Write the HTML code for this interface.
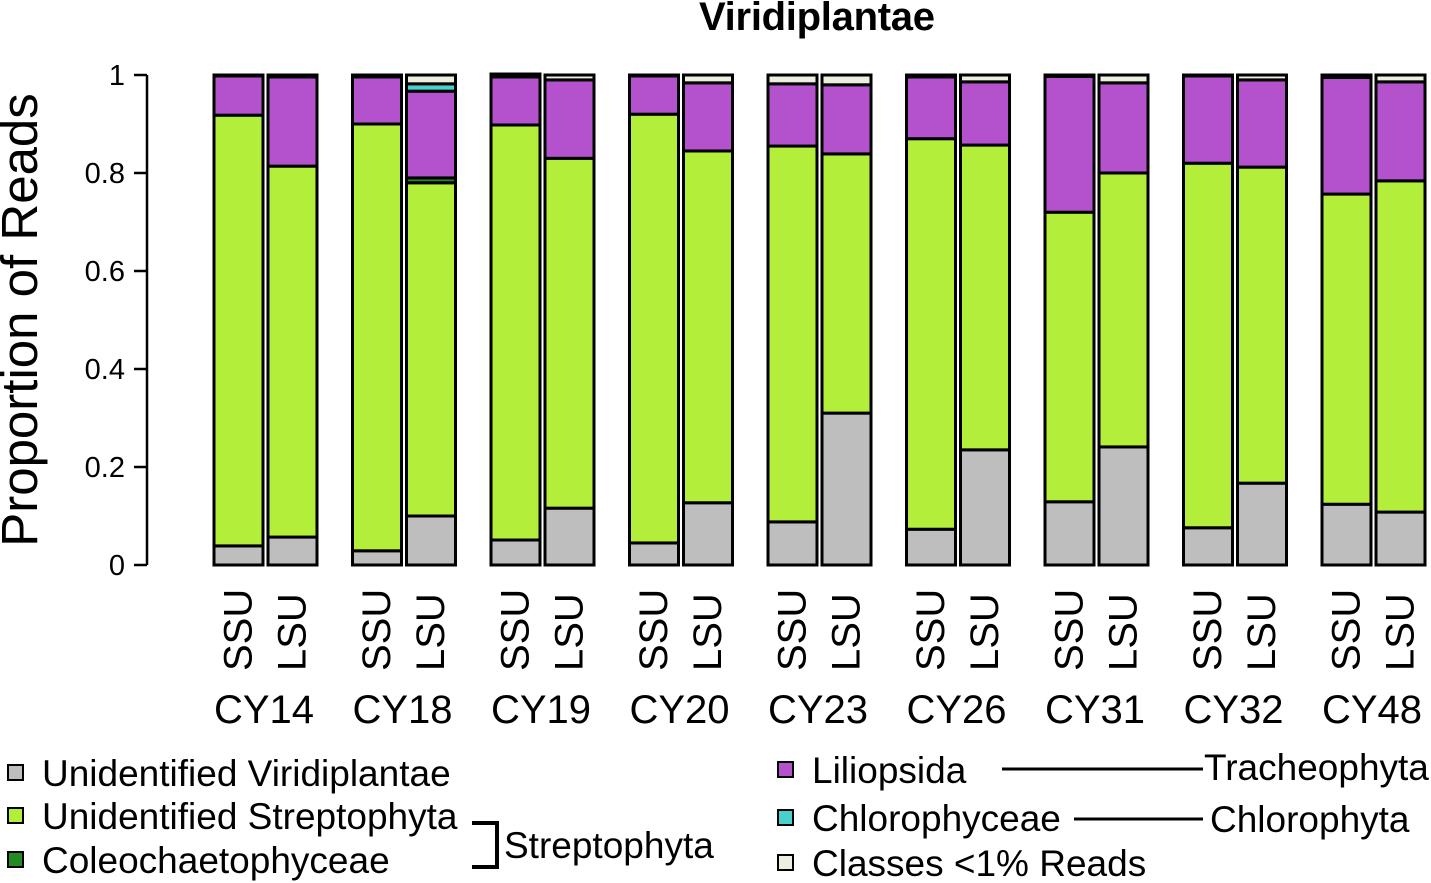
<!DOCTYPE html>
<html><head><meta charset="utf-8"><style>
body{margin:0;background:#fff}
svg{display:block;font-family:"Liberation Sans",Arial,sans-serif}
</style></head><body>
<svg id="c" width="1431" height="883" viewBox="0 0 1431 883">
<text x="817" y="30" text-anchor="middle" font-size="40" font-weight="bold" textLength="236">Viridiplantae</text>
<text transform="translate(37,320) rotate(-90)" text-anchor="middle" font-size="51">Proportion of Reads</text>
<g id="axis"></g>
<g id="bars"></g>
<g id="xl"></g>
<g font-size="37">
<rect x="8" y="765" width="15" height="15" fill="#bebebe" stroke="#000" stroke-width="2"/>
<text x="42" y="786">Unidentified Viridiplantae</text>
<rect x="8" y="808" width="15" height="15" fill="#b3ee3a" stroke="#000" stroke-width="2"/>
<text x="42" y="829">Unidentified Streptophyta</text>
<rect x="8" y="852" width="15" height="15" fill="#228b22" stroke="#000" stroke-width="2"/>
<text x="42" y="873">Coleochaetophyceae</text>
<path d="M472 823H497V867H472" fill="none" stroke="#000" stroke-width="4"/>
<text x="504" y="858">Streptophyta</text>
<rect x="778" y="762" width="15" height="15" fill="#b452cd" stroke="#000" stroke-width="2"/>
<text x="812" y="783">Liliopsida</text>
<line x1="1002" y1="769" x2="1203" y2="769" stroke="#000" stroke-width="3"/>
<text x="1204" y="780">Tracheophyta</text>
<rect x="778" y="810" width="15" height="15" fill="#48d1cc" stroke="#000" stroke-width="2"/>
<text x="812" y="831">Chlorophyceae</text>
<line x1="1074" y1="819" x2="1203" y2="819" stroke="#000" stroke-width="3"/>
<text x="1210" y="832">Chlorophyta</text>
<rect x="778" y="855" width="15" height="15" fill="#eeeee0" stroke="#000" stroke-width="2"/>
<text x="812" y="876">Classes &lt;1% Reads</text>
</g>
</svg>
<script>
const sites=["CY14","CY18","CY19","CY20","CY23","CY26","CY31","CY32","CY48"];
const markers=["SSU","LSU"];
const yTicks=["0","0.2","0.4","0.6","0.8","1"];
// order: SSU,LSU per site
const unidViridi=[0.039,0.057,0.029,0.1,0.051,0.116,0.045,0.127,0.088,0.31,0.073,0.235,0.129,0.241,0.076,0.167,0.124,0.108];
const unidStrepto=[0.879,0.757,0.871,0.68,0.847,0.714,0.875,0.718,0.767,0.529,0.797,0.622,0.591,0.559,0.744,0.645,0.633,0.676];
const coleo=[0,0,0,0.01,0,0,0,0,0,0,0,0,0,0,0,0,0,0];
const liliopsida=[0.08,0.182,0.096,0.177,0.098,0.16,0.078,0.139,0.127,0.141,0.126,0.129,0.277,0.184,0.178,0.178,0.238,0.202];
const chloro=[0,0,0,0.015,0,0,0,0,0,0,0,0,0,0,0,0,0,0];
const other=[0.002,0.004,0.004,0.018,0.006,0.01,0.002,0.016,0.018,0.02,0.004,0.014,0.003,0.016,0.002,0.01,0.005,0.014];
const series=[unidViridi,unidStrepto,coleo,liliopsida,chloro,other];
const colors=["#bebebe","#b3ee3a","#228b22","#b452cd","#48d1cc","#eeeee0"];
const snames=["unidentified-viridiplantae","unidentified-streptophyta","coleochaetophyceae","liliopsida","chlorophyceae","other-classes"];
const NS="http://www.w3.org/2000/svg";
const y0=565,y1=75;
const yS=v=>y0-(v)*(y0-y1);
const xS=i=>214+Math.floor(i/2)*138.5+(i%2)*54;
const bw=49;
function mk(t,a,p){const e=document.createElementNS(NS,t);for(const k in a)e.setAttribute(k,a[k]);p.appendChild(e);return e;}
const ax=document.getElementById('axis');
const al=mk('line',{x1:147,x2:147,y1:yS(0),y2:yS(1),stroke:'#000','stroke-width':2.5},ax);


yTicks.forEach(t=>{const v=parseFloat(t);
const l=mk('line',{x1:134,x2:147,y1:yS(v),y2:yS(v),stroke:'#000','stroke-width':2.5},ax);


const tx=mk('text',{x:125,y:yS(v)+10,'text-anchor':'end','font-size':29},ax);tx.textContent=t;

});
const bg=document.getElementById('bars');
for(let i=0;i<unidViridi.length;i++){let acc=0;
series.forEach((s,k)=>{const v=s[i];if(v<=0){return;}
const r=mk('rect',{x:xS(i),y:yS(acc+v),width:bw,height:yS(acc)-yS(acc+v),fill:colors[k],stroke:'#000','stroke-width':3},bg);


acc+=v;});}
const xl=document.getElementById('xl');
for(let i=0;i<unidViridi.length;i++){const cx=xS(i)+bw/2+13;
const t=mk('text',{transform:`translate(${cx},671) rotate(-90)`,'font-size':40},xl);t.textContent=markers[i%2];

}
sites.forEach((s,g)=>{const t=mk('text',{x:xS(g*2)+bw+1,y:723,'text-anchor':'middle','font-size':40},xl);t.textContent=s;

});
</script>
</body></html>
